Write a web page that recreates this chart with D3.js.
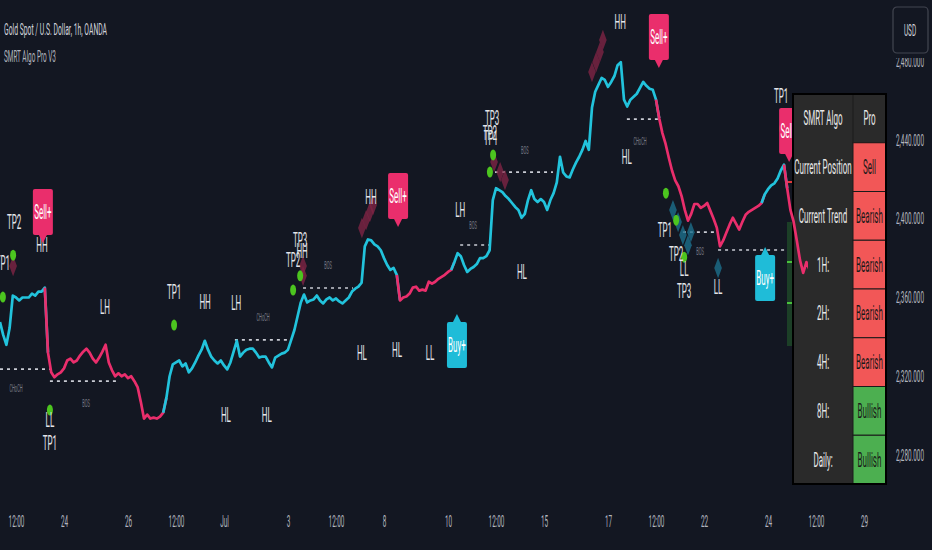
<!DOCTYPE html>
<html>
<head>
<meta charset="utf-8">
<script src="https://cdn.jsdelivr.net/npm/d3@7"></script>
<style>
  html, body { margin: 0; padding: 0; background: #131722; }
  svg { display: block; font-family: Roboto, "Liberation Sans", sans-serif; }
</style>
</head>
<body>
<div id="chart"></div>
<script>
// closes, one per 2.4h bar
var closes = [2347.5,2341,2336,2344.5,2361,2360,2358.5,2360,2360,2360,2362,2361,2363,2363,2365,
  2332,2322,2319.5,2321,2322,2324,2328,2329,2327,2328,2330.5,2332.5,2334,2332,2329,2327,2329.5,2332.5,2336,
  2327,2323,2320,2321.5,2320,2321,2319,2320,2317.5,2314.5,2307,2298.5,2300.5,2298.5,2299,2298.5,2299.5,2301.5,
  2309,2320,2326,2327,2328,2325,2326.5,2322,2324,2327,2330.5,2333.5,2338,2333.5,2330,2328,2326.5,2328,2325.5,
  2323.5,2327,2332.5,2338,2330,2332,2333.5,2334,2334,2332,2329.5,2330,2330,2327,2324.5,2329.5,2330.5,2331.5,
  2332,2333.5,2338.5,2343.5,2350.5,2357.5,2361.5,2357.5,2358.5,2359,2361,2358.5,2357,2359,2360,2358.5,2359.5,
  2358,2357,2358.5,2360,2363,2364.5,2365.5,2367.5,2386,2389.5,2389,2387,2386,2384,2380,2376.5,2374,2375,2371.5,
  2358.5,2360,2360.5,2362,2365,2365.5,2363.5,2364,2363.5,2368,2367,2368,2369.5,2370.5,2371.5,2373,2374,
  2378,2382.5,2381,2376.5,2373,2374.5,2375.5,2377,2380,2380,2381,2384,2409.5,2415.5,2414.5,2413.5,2411.5,2410,
  2408,2406,2404.5,2400.5,2402.5,2409.5,2414.5,2410,2408.5,2410,2408.5,2404.5,2409.5,2413,2418.5,2431.5,2423.5,
  2421.5,2421,2425,2428.5,2431.5,2435,2439.5,2435,2456.5,2464.5,2468,2471.5,2470.5,2467,2469.5,2472.5,2478,
  2479.5,2460.5,2457,2460.5,2462,2463.5,2466.5,2469.5,2467.5,2466,2465.5,2460.5,
  2451,2443.5,2438,2431,2424.5,2419.5,2416.5,2411.5,2404.5,2399,2402.5,2407.5,2407.5,2405.5,2406.5,2408,2404,
  2400,2395.5,2386,2389,2393,2397,2400.5,2397.5,2394.5,2398.5,2402,2403.5,2404.5,2405.5,2406.5,2408,
  2412.5,2415,2417,2418,2420.5,2424.5,2427.5,
  2415.5,2404.5,2398.5,2389,2379,2372.5,2378,2374];

// bar where each trend run starts, 1 = bullish, 0 = bearish
var trendStart = [0, 15, 52, 125, 142, 206, 239, 246];
var trendDir   = [1, 0, 1, 0, 1, 0, 1, 0];

var tickIdx    = [5, 20, 40, 55, 70, 90, 105, 120, 140, 155, 170, 190, 205, 220, 240, 255, 270];
var tickLabels = ["12:00","24","26","12:00","Jul","3","12:00","8","10","12:00","15","17","12:00","22","24","12:00","29"];
var priceTicks = [2280, 2320, 2360, 2400, 2440, 2480];

// [text, bar, price]
var swingLabels = [
  ["TP2",4.4,2398.3],["TP1",0.9,2377.5],["HH",13.1,2386.6],["LL",15.6,2297.7],["TP1",15.6,2286.1],
  ["LH",32.8,2355.1],["TP1",54.4,2362.8],["HH",64.1,2357.7],["LH",73.8,2357.2],["HL",70.6,2300.3],["HL",83.4,2300.3],
  ["TP2",91.6,2379],["TP3",93.8,2389.2],["HH",94.4,2383.6],["HL",113.1,2331.8],["HL",124.1,2333.3],["HH",115.9,2411],
  ["LL",134.4,2331.8],["LH",143.8,2404.4],["HL",163.1,2372.9],["TP3",153.8,2451.2],["TP2",153.1,2443.5],["TP1",153.4,2441],
  ["HH",193.8,2499.9],["HL",195.9,2431.3],["TP1",207.8,2394.3],["TP2",211.3,2382.1],["LL",213.8,2374.4],["TP3",213.8,2363.3],
  ["LL",224.4,2365.3],["TP1",244.1,2462.3]
];
var structLabels = [["CHoCH",5,2314],["BOS",26.9,2306.4],["CHoCH",82.2,2349.6],["BOS",102.5,2376.5],
  ["BOS",147.8,2396.8],["BOS",164,2434.9],["CHoCH",200,2439],["BOS",218.8,2383.6]];
// [from bar, to bar, price]
var structLines = [[0,15.6,2323.6],[15.6,36.9,2317.5],[73.4,90.6,2338.5],[94.7,110.3,2364.8],[143.8,153.1,2386.7],
  [154.7,172.8,2423.7],[195.9,205.6,2450.6],[213.4,224.1,2393.2],[224.4,247.8,2384.1]];
var tpDots = [[0.9,2360.2],[4.1,2381.5],[15.6,2302.8],[54.4,2346],[91.6,2363.8],[93.8,2371],[154.1,2432.4],
  [153.1,2423.7],[208.1,2413],[211.3,2399.3],[213.8,2380.5],[244.4,2445.6]];
var bearBlobs = [[4.1,2376],[94.7,2376],[94.7,2371],[113.1,2395.3],[114.4,2399.3],[115.6,2403.4],[116.6,2407],
  [154.4,2428.8],[156.3,2423.7],[157.8,2419.7],[185,2474.5],[186.3,2479.6],[187.5,2484.7],[188.4,2490.8]];
var bullBlobs = [[210.3,2404.4],[211.9,2398.3],[213.4,2391.7],[215,2386.6],[215.9,2393.2],[224.4,2375]];
// [text, bar, price at pointer tip, side]
var signals = [["Sell+",13.4,2387.7,"sell"],["Sell+",124.4,2395.8,"sell"],["Buy+",142.8,2351.6,"buy"],
  ["Sell+",205.9,2476.6,"sell"],["Buy+",239.1,2385.6,"buy"],["Sell+",246.6,2428.8,"sell"]];

var tableRows   = ["SMRT Algo","Current Position","Current Trend","1H:","2H:","4H:","8H:","Daily:"];
var tableValues = ["Pro","Sell","Bearish","Bearish","Bearish","Bearish","Bullish","Bullish"];

function init(){
  var W = 932, H = 550;
  var bg = "#131722", cyan = "#22c3dc", pink = "#ea2e6c";

  var svg = d3.select("#chart").append("svg").attr("width", W).attr("height", H);
  svg.append("rect").attr("width", W).attr("height", H).attr("fill", bg);

  var x = d3.scaleLinear().domain([0, 275]).range([0, 880]);
  var y = d3.scaleLinear().domain([2280, 2440]).range([455, 140]);

  // squeezed text like the screenshot
  function txt(g, px, py, s, size, fill, anchor){
    return g.append("text")
      .attr("transform", "translate(" + px + "," + py + ") scale(0.4,1)")
      .attr("text-anchor", anchor || "middle")
      .attr("dy", "0.35em")
      .style("font-size", size + "px")
      .attr("fill", fill)
      .text(s);
  }

  var plot = svg.append("g");

  // structure lines
  plot.selectAll(".sl").data(structLines).enter().append("line")
    .attr("x1", function(d){ return x(d[0]); })
    .attr("x2", function(d){ return x(d[1]); })
    .attr("y1", function(d){ return y(d[2]); })
    .attr("y2", function(d){ return y(d[2]); })
    .attr("stroke", "#c9ccd4").attr("stroke-width", 1.6).attr("stroke-dasharray", "3,4");

  structLabels.forEach(function(d){ txt(plot, x(d[1]), y(d[2]), d[0], 10, "#787b86"); });

  // blobs
  var diamond = d3.symbol().type(d3.symbolDiamond).size(120);
  plot.selectAll(".bb").data(bearBlobs).enter().append("path")
    .attr("d", diamond)
    .attr("transform", function(d){ return "translate(" + x(d[0]) + "," + y(d[1]) + ") scale(0.65,1)"; })
    .attr("fill", "#7e2445").attr("opacity", 0.8);
  plot.selectAll(".ub").data(bullBlobs).enter().append("path")
    .attr("d", diamond)
    .attr("transform", function(d){ return "translate(" + x(d[0]) + "," + y(d[1]) + ") scale(0.65,1)"; })
    .attr("fill", "#1d6f8c").attr("opacity", 0.8);

  // tp dots
  plot.selectAll(".dot").data(tpDots).enter().append("ellipse")
    .attr("cx", function(d){ return x(d[0]); })
    .attr("cy", function(d){ return y(d[1]); })
    .attr("rx", 3).attr("ry", 5.5)
    .attr("fill", "#4cc51f");

  swingLabels.forEach(function(d){ txt(plot, x(d[1]), y(d[2]), d[0], 20, "#e3e5ea"); });

  // signal boxes
  signals.forEach(function(d){
    var cx = x(d[1]), ty = y(d[2]);
    var col = d[3] == "sell" ? pink : "#1fbcd8";
    var bw = 20, bh = 46, ph = 8;
    var top = d[3] == "sell" ? ty - ph - bh : ty + ph;
    var g = plot.append("g");
    g.append("rect").attr("x", cx - bw/2).attr("y", top).attr("width", bw).attr("height", bh)
      .attr("rx", 2).attr("fill", col);
    var tri = d[3] == "sell"
      ? [[cx-4, ty-ph], [cx+4, ty-ph], [cx, ty]]
      : [[cx-4, ty+ph], [cx+4, ty+ph], [cx, ty]];
    g.append("path").attr("d", d3.line()(tri) + "Z").attr("fill", col);
    txt(g, cx, top + bh/2, d[0], 20, "#ffffff");
  });

  // green tp column near the right edge
  plot.append("rect").attr("x", 787).attr("y", 222).attr("width", 7).attr("height", 124).attr("fill", "#1c3f27");
  [262, 303].forEach(function(v){
    plot.append("line").attr("x1", 787).attr("x2", 794).attr("y1", v).attr("y2", v)
      .attr("stroke", "#49c23c").attr("stroke-width", 2);
  });
  plot.append("line").attr("x1", 787).attr("x2", 794).attr("y1", 182).attr("y2", 182)
    .attr("stroke", "#e33a3a").attr("stroke-width", 2);

  // table
  var tx = 793, ty0 = 94, rh = 48.75, c1 = 60, c2 = 33;
  var tbl = svg.append("g");
  tbl.append("rect").attr("x", tx).attr("y", ty0).attr("width", c1 + c2).attr("height", rh * 8)
    .attr("fill", "#2a2a2a").attr("stroke", "#000").attr("stroke-width", 2);
  tableRows.forEach(function(r, i){
    var v = tableValues[i];
    var fill = v == "Pro" ? "#2a2a2a" : (v == "Bullish" ? "#4caf50" : "#f25757");
    tbl.append("rect").attr("x", tx + c1).attr("y", ty0 + i * rh).attr("width", c2).attr("height", rh)
      .attr("fill", fill).attr("stroke", "#1a1a1a").attr("stroke-width", 1);
    txt(tbl, tx + c1/2, ty0 + i * rh + rh/2, r, 20, "#e8e8e8");
    txt(tbl, tx + c1 + c2/2, ty0 + i * rh + rh/2, v, 20, v == "Pro" ? "#e8e8e8" : "#1a1a1a");
  });
  tbl.append("rect").attr("x", tx).attr("y", ty0).attr("width", c1 + c2).attr("height", rh * 8)
    .attr("fill", "none").attr("stroke", "#000").attr("stroke-width", 2);

  // price line, one path per trend run
  svg.append("clipPath").attr("id", "pc").append("rect").attr("x", 0).attr("y", 0).attr("width", 808).attr("height", H);
  var line = d3.line().x(function(d){ return x(d[0]); }).y(function(d){ return y(d[1]); });
  var lines = svg.append("g").attr("clip-path", "url(#pc)");
  trendStart.forEach(function(s, k){
    var e = k + 1 < trendStart.length ? trendStart[k + 1] : closes.length - 1;
    var pts = [];
    for (var i = Math.max(0, s - 1); i <= e; i++) pts.push([i, closes[i]]);
    lines.append("path").attr("d", line(pts)).attr("fill", "none")
      .attr("stroke", trendDir[k] ? cyan : pink).attr("stroke-width", 2.7)
      .attr("stroke-linejoin", "round");
  });

  // price axis
  var yAxis = d3.axisRight(y).tickValues(priceTicks).tickFormat(d3.format(",.3f")).tickSize(0).tickPadding(0);
  var ya = svg.append("g").attr("transform", "translate(910,0)").call(yAxis);
  ya.select(".domain").remove();
  ya.selectAll("text").attr("x", 0).attr("text-anchor", "middle").attr("transform", "scale(0.4,1)")
    .style("font-size", "16px").style("font-family", "Roboto").attr("fill", "#b2b5be");

  // hide top of the 2,480 label, then the USD box
  svg.append("rect").attr("x", 884).attr("y", 0).attr("width", 48).attr("height", 58).attr("fill", bg);
  svg.append("rect").attr("x", 893).attr("y", 7).attr("width", 35).attr("height", 46).attr("rx", 4)
    .attr("fill", bg).attr("stroke", "#434651").attr("stroke-width", 1.2);
  txt(svg, 910, 30, "USD", 16, "#d1d4dc");

  // time axis
  var xAxis = d3.axisBottom(x).tickValues(tickIdx).tickFormat(function(d, i){ return tickLabels[i]; })
    .tickSize(0).tickPadding(0);
  var xa = svg.append("g").attr("transform", "translate(0,516)").call(xAxis);
  xa.select(".domain").remove();
  xa.selectAll("text").attr("y", 0).attr("dy", "0.71em").attr("transform", "scale(0.4,1)")
    .style("font-size", "16px").style("font-family", "Roboto").attr("fill", "#b2b5be");

  // header
  txt(svg, 4, 29, "Gold Spot / U.S. Dollar, 1h, OANDA", 17, "#d1d4dc", "start");
  txt(svg, 4, 56, "SMRT Algo Pro V3", 16, "#b2b5be", "start");
}
window.onload = init;
</script>
</body>
</html>
